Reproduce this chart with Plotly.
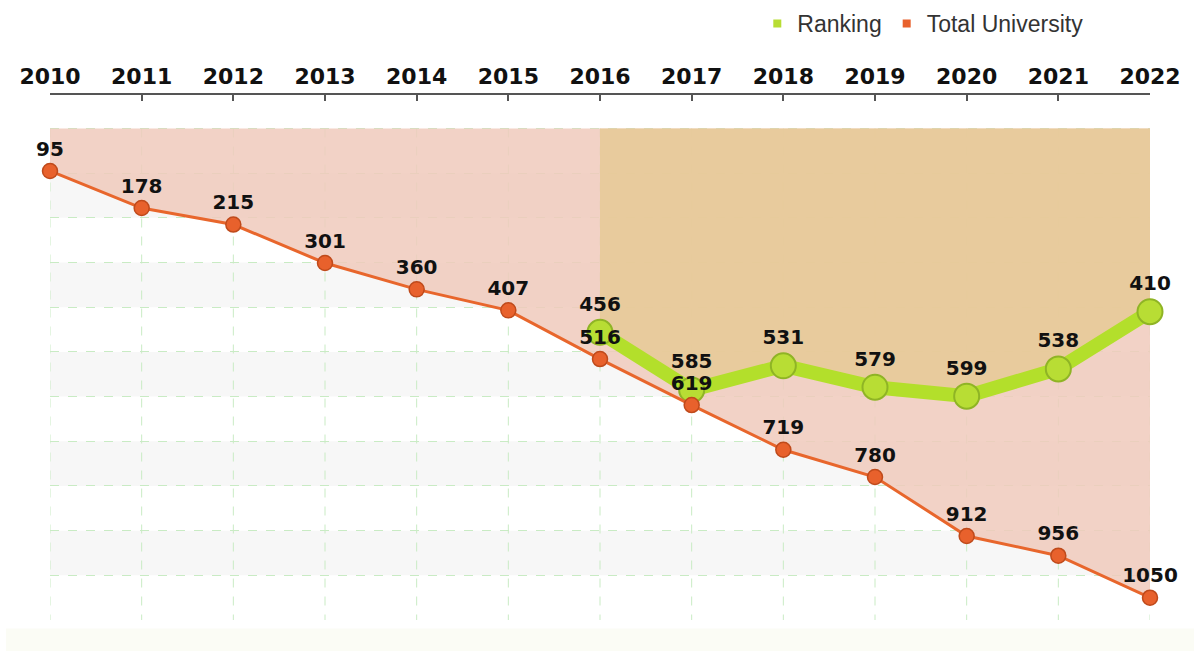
import plotly.graph_objects as go

# data
years = [2010, 2011, 2012, 2013, 2014, 2015, 2016, 2017, 2018, 2019, 2020, 2021, 2022]
total_university = [95, 178, 215, 301, 360, 407, 516, 619, 719, 780, 912, 956, 1050]
rank_years = [2016, 2017, 2018, 2019, 2020, 2021, 2022]
ranking = [456, 585, 531, 579, 599, 538, 410]

y_top, y_bottom, y_step = 0, 1100, 100

label_font = dict(family="DejaVu Sans", size=20, color="#111111", weight="bold")
grid_col = "#c9ebc4"

fig = go.Figure()

# vertical dashed grid, only over the chart body
gx, gy = [], []
for yr in years:
    gx += [yr, yr, None]
    gy += [y_top, y_bottom, None]
fig.add_trace(go.Scatter(x=gx, y=gy, mode="lines", line=dict(color=grid_col, width=1, dash="dash"),
                         hoverinfo="skip", showlegend=False))

# pink area above the total line
fig.add_trace(go.Scatter(x=years, y=[y_top] * len(years), mode="lines", line=dict(width=0),
                         hoverinfo="skip", showlegend=False))
fig.add_trace(go.Scatter(x=years, y=total_university, mode="none", fill="tonexty",
                         fillcolor="rgba(240,202,188,0.85)", hoverinfo="skip", showlegend=False))

# tan area above the ranking line
fig.add_trace(go.Scatter(x=rank_years, y=[y_top] * len(rank_years), mode="lines", line=dict(width=0),
                         hoverinfo="skip", showlegend=False))
fig.add_trace(go.Scatter(x=rank_years, y=ranking, mode="none", fill="tonexty",
                         fillcolor="rgba(230,202,149,0.85)", hoverinfo="skip", showlegend=False))

# ranking line
fig.add_trace(go.Scatter(
    x=rank_years, y=ranking, mode="lines+markers+text",
    text=[str(v) for v in ranking], textposition="top center", textfont=label_font,
    line=dict(color="#b3df2b", width=14),
    marker=dict(size=25, color="#b8dd34", line=dict(color="#8fb425", width=2)),
    cliponaxis=False, showlegend=False, name="Ranking"))

# total university line
fig.add_trace(go.Scatter(
    x=years, y=total_university, mode="lines+markers+text",
    text=[str(v) for v in total_university], textposition="top center", textfont=label_font,
    line=dict(color="#e8662c", width=3),
    marker=dict(size=15, color="#e8612c", line=dict(color="#bf4a1b", width=1.5)),
    cliponaxis=False, showlegend=False, name="Total University"))

# legend entries
fig.add_trace(go.Scatter(x=[None], y=[None], mode="markers", name="Ranking",
                         marker=dict(symbol="square", size=8, color="#b8dd34")))
fig.add_trace(go.Scatter(x=[None], y=[None], mode="markers", name="Total University",
                         marker=dict(symbol="square", size=8, color="#e8612c")))

# alternating horizontal bands
shapes = []
for k, lo in enumerate(range(y_top, y_bottom, y_step)):
    if k % 2 == 1:
        shapes.append(dict(type="rect", xref="x", yref="y", x0=years[0], x1=years[-1],
                           y0=lo, y1=lo + y_step, fillcolor="#f7f7f7", line=dict(width=0),
                           layer="below"))
shapes.append(dict(type="rect", xref="paper", yref="paper", x0=-0.04, x1=1.04, y0=-0.06, y1=-0.016,
                   fillcolor="#fbfcf5", line=dict(width=0), layer="below"))

fig.update_layout(
    width=1195, height=651,
    margin=dict(l=50, r=45, t=95, b=31),
    paper_bgcolor="white", plot_bgcolor="white",
    shapes=shapes,
    showlegend=True,
    legend=dict(orientation="h", x=0.643, xanchor="left", yref="container", y=0.997, yanchor="top",
                traceorder="normal",
                font=dict(family="Liberation Sans", size=23, color="#333333"),
                bgcolor="rgba(0,0,0,0)", itemwidth=30),
    xaxis=dict(side="top", range=[years[0], years[-1]], tickmode="array", tickvals=years,
               ticktext=[str(y) for y in years], showgrid=False, zeroline=False,
               showline=True, linecolor="#555555", linewidth=2, automargin=False,
               ticks="inside", ticklen=6, tickcolor="#555555", tickwidth=2,
               tickfont=dict(family="DejaVu Sans", size=22, color="#111111", weight="bold")),
    yaxis=dict(range=[y_bottom, -75], showticklabels=False, zeroline=False, automargin=False,
               showgrid=True, gridcolor=grid_col, griddash="dash", gridwidth=1,
               tick0=0, dtick=y_step, showline=False),
)

fig.write_html("out.html", config={"displayModeBar": False},
               post_script="document.body.style.margin='0';")
